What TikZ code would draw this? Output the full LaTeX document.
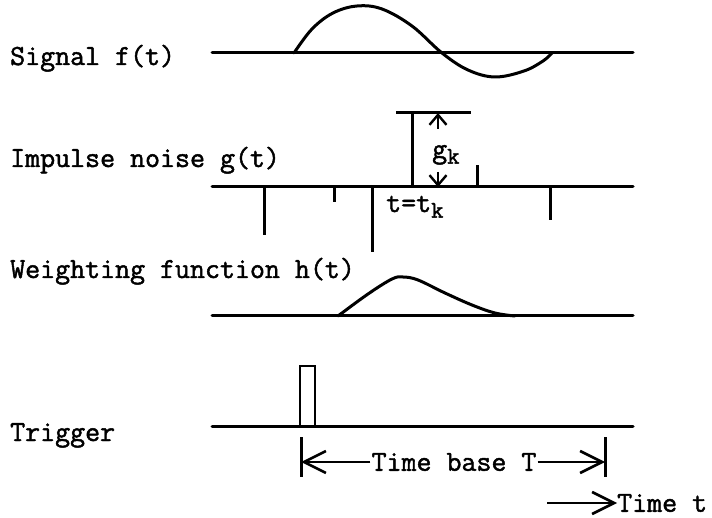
\documentclass[tikz,border=0pt]{standalone}
\usepackage{fontspec}
\setmonofont{Latin Modern Mono}[FakeBold=1.6]
\usetikzlibrary{arrows.meta,positioning}
\newcommand{\tsub}[1]{\raisebox{-0.45ex}{\fontsize{24}{24}\selectfont #1}}

\begin{document}
\begin{tikzpicture}[x=1pt, y=-1pt, font=\ttfamily\fontsize{29.1}{32}\selectfont]
  % Define styles
  \tikzstyle{rowtext} = [anchor=base west, inner sep=0pt]
  \tikzstyle{axis} = [draw, line width=3pt, line cap=round]
  \tikzstyle{trace} = [draw, line width=3pt, line cap=round, line join=round]
  \tikzstyle{spike} = [draw, line width=3pt]
  \tikzstyle{barb} = [draw, line width=2.4pt, -{Straight Barb[length=10pt,width=17pt,line width=2.4pt]}]
  \tikzstyle{span} = [draw, line width=2pt, -{Straight Barb[length=22pt,width=22pt,line width=2.6pt]}]

  \useasboundingbox (0,0) rectangle (712,518);

  % Place nodes
  \node [rowtext] (sig) at (10,65) {Signal f(t)};
  \node [rowtext] (imp) at (10,167) {Impulse noise g(t)};
  \node [rowtext] (wgt) at (10,278) {Weighting function h(t)};
  \node [rowtext] (trg) at (10,441) {Trigger};
  \node [rowtext] (gk) at (432,158) {g\tsub{k}};
  \node [rowtext] (tk) at (386,212) {t=t\tsub{k}};
  \node [inner sep=1pt] (tb) at (454,462) {Time base T};
  \node [anchor=west, inner sep=0pt] (tt) at (617,503) {Time t};

  % Signal f(t)
  \draw [axis] (212,53) -- (633,53);
  \draw [trace] plot [smooth, tension=0.6] coordinates
    {(294,53) (312,29) (333,13) (357,6) (382,9) (412,26) (442,53)
     (468,70) (495,77) (524,71) (543,61) (552,53)};

  % Impulse noise g(t)
  \draw [axis] (212,187) -- (633,187);
  \foreach \x/\y in {264/235, 334/202, 372/252, 477/165, 550/220}
    \draw [spike] (\x,187) -- (\x,\y);
  \draw [spike] (412,187) -- (412,113);
  \draw [spike] (396,113) -- (471,113);
  \coordinate (gtop) at (438,113);
  \coordinate (gbot) at (438,187);
  \draw [barb] (438,129) -- (gtop);
  \draw [barb] (438,172) -- (gbot);

  % Weighting function h(t)
  \draw [axis] (212,316) -- (633,316);
  \draw [trace] plot [smooth, tension=0.6] coordinates
    {(338,316) (368,294) (392,279) (403,277) (418,280) (445,293)
     (472,305) (495,313) (515,316)};

  % Trigger
  \draw [axis] (212,426) -- (633,426);
  \draw [line width=2.4pt] (300,426) -- (300,366) -- (315,366) -- (315,426);

  % Time base
  \coordinate (tbL) at (301,462);
  \coordinate (tbR) at (605,462);
  \draw [spike] (301,437) -- (301,477);
  \draw [spike] (605,437) -- (605,477);
  \path [span] (tb.west) -- (tbL);
  \path [span] (tb.east) -- (tbR);
  \coordinate (ttA) at (547,503);
  \path [span] (ttA) -- (tt.west);
\end{tikzpicture}
\end{document}
